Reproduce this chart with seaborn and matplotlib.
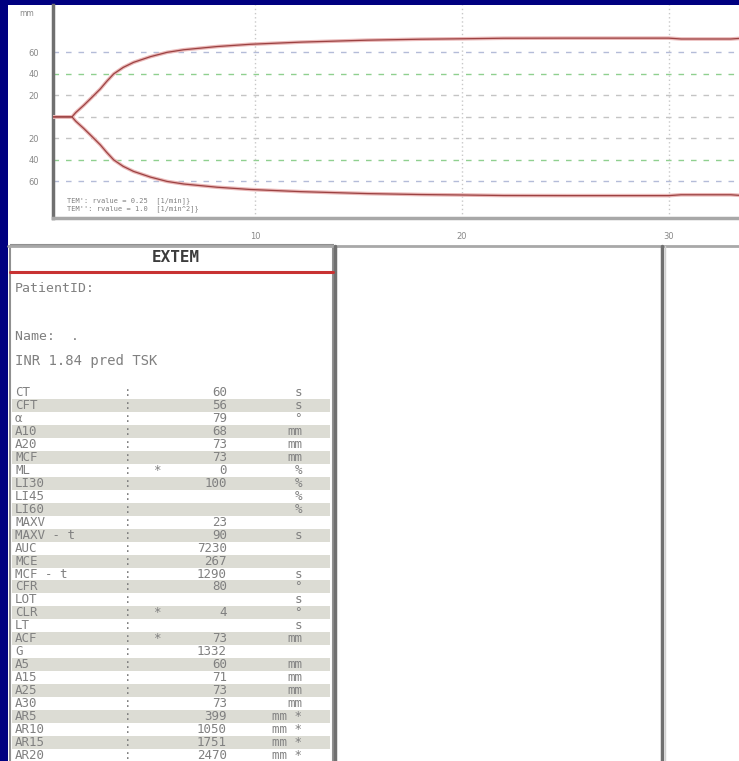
import matplotlib
matplotlib.use('Agg')
import matplotlib.pyplot as plt
import seaborn as sns
import pandas as pd
from matplotlib.patches import Rectangle

# ROTEM trace (minutes, amplitude in mm)
time_min = [0, 1.12, 1.3, 1.69, 2.1, 2.49, 2.8, 3.14, 3.6, 4.1, 4.92, 5.72, 6.53,
            8.15, 9.76, 12.2, 15.4, 18.0, 20.0, 22.0, 25.0, 30.0, 30.6, 33.0, 33.4]
amplitude = [0, 0, 4, 10.8, 18.5, 26, 33, 40, 46, 50.7, 56, 60, 62.4,
             65.4, 67.5, 69.5, 71.3, 72.2, 72.6, 73.1, 73.2, 73.2, 72.4, 72.4, 72.9]

y_ticks = [60, 40, 20, -20, -40, -60]
y_tick_labels = ['60', '40', '20', '20', '40', '60']
x_ticks = [10, 20, 30]

# EXTEM result table
param_names = ['CT', 'CFT', 'α', 'A10', 'A20', 'MCF', 'ML', 'LI30', 'LI45', 'LI60',
               'MAXV', 'MAXV - t', 'AUC', 'MCE', 'MCF - t', 'CFR', 'LOT', 'CLR', 'LT',
               'ACF', 'G', 'A5', 'A15', 'A25', 'A30', 'AR5', 'AR10', 'AR15', 'AR20']
param_flags = ['', '', '', '', '', '', '*', '', '', '',
               '', '', '', '', '', '', '', '*', '',
               '*', '', '', '', '', '', '', '', '', '']
param_values = ['60', '56', '79', '68', '73', '73', '0', '100', '', '',
                '23', '90', '7230', '267', '1290', '80', '', '4', '',
                '73', '1332', '60', '71', '73', '73', '399', '1050', '1751', '2470']
param_units = ['s', 's', '°', 'mm', 'mm', 'mm', '%', '%', '%', '%',
               '', 's', '', '', 's', '°', 's', '°', 's',
               'mm', '', 'mm', 'mm', 'mm', 'mm', 'mm *', 'mm *', 'mm *', 'mm *']

W, H = 739, 761
sns.set_theme(style='white')
plt.rcParams['font.family'] = ['DejaVu Sans']
mono = 'DejaVu Sans Mono'
grey_txt = '#808080'

fig = plt.figure(figsize=(W / 100, H / 100), dpi=100, facecolor='#000080')
fig.patches.append(Rectangle((8 / W, 0), 1 - 8 / W, (H - 5) / H, transform=fig.transFigure,
                             facecolor='white', edgecolor='none', zorder=-5))

# --- trace plot ---
ax = fig.add_axes([53 / W, (H - 218) / H, 1 - 53 / W, 213 / H])
ax.set_facecolor('white')
ax.set_xlim(0.2, 33.4)
ax.set_ylim(-94, 104)

for yv, col in [(60, '#b4bcd8'), (40, '#8fd08f'), (20, '#c4c4c4'), (0, '#c4c4c4'),
                (-20, '#c4c4c4'), (-40, '#8fd08f'), (-60, '#b4bcd8')]:
    ax.axhline(yv, color=col, lw=1, ls=(0, (4, 5)), zorder=1)
for xv in x_ticks:
    ax.axvline(xv, color='#c8c8c8', lw=1, ls=(0, (1, 2)), zorder=1)

df = pd.DataFrame({'t': time_min, 'amp': amplitude})
df['neg'] = -df['amp']
for col in ['amp', 'neg']:
    sns.lineplot(data=df, x='t', y=col, ax=ax, color='#eab8b8', lw=2.6, zorder=3)
    sns.lineplot(data=df, x='t', y=col, ax=ax, color='#9c4242', lw=0.9, zorder=4)

ax.set_xlabel('')
ax.set_ylabel('')
ax.set_yticks(y_ticks)
ax.set_yticklabels(y_tick_labels)
ax.set_xticks(x_ticks)
ax.set_xticklabels([str(v) for v in x_ticks])
ax.tick_params(axis='y', length=0, pad=10, labelsize=6, labelcolor='#888888')
ax.tick_params(axis='x', length=0, pad=10, labelsize=6, labelcolor='#888888')
for s in ['top', 'right']:
    ax.spines[s].set_visible(False)
ax.spines['left'].set_color('#707070')
ax.spines['left'].set_linewidth(2.5)
ax.spines['bottom'].set_color('#a8a8a8')
ax.spines['bottom'].set_linewidth(2.5)
ax.text(0.02, 0.075, "TEM': rvalue = 0.25  [1/min]}", transform=ax.transAxes,
        fontsize=5, color='#808080', family=mono)
ax.text(0.02, 0.035, "TEM'': rvalue = 1.0  [1/min^2]}", transform=ax.transAxes,
        fontsize=5, color='#808080', family=mono)

# --- overlay in pixel coordinates for the report part ---
ov = fig.add_axes([0, 0, 1, 1])
ov.set_xlim(0, W)
ov.set_ylim(H, 0)
ov.axis('off')
ov.patch.set_alpha(0)

ov.text(27, 13, 'mm', fontsize=5.5, color='#888888', ha='center', va='center')

ov.plot([8, W], [246, 246], color='#a8a8a8', lw=2)
ov.add_patch(Rectangle((10, 245), 323, 530, facecolor='none', edgecolor='#909090', lw=1.5))
ov.plot([335, 335], [246, H], color='#707070', lw=2.5)
ov.plot([662, 662], [246, H], color='#707070', lw=2.5)
ov.plot([665, 665], [246, H], color='#d0d0d0', lw=1)

ov.text(176, 257, 'EXTEM', fontsize=11.5, fontweight='bold', color='#3c3c3c',
        family=mono, ha='center', va='center')
ov.plot([10, 333], [272, 272], color='#c83232', lw=2.2)

ov.text(15, 289, 'PatientID:', fontsize=9.5, color=grey_txt, family=mono, va='center')
ov.text(15, 336, 'Name:  .', fontsize=9.5, color=grey_txt, family=mono, va='center')
ov.text(15, 361, 'INR 1.84 pred TSK', fontsize=10, color=grey_txt, family=mono, va='center')

row_y0, row_h = 393, 12.93
for i, name in enumerate(param_names):
    y = row_y0 + i * row_h
    if i % 2 == 1:
        ov.add_patch(Rectangle((12, y - row_h / 2), 318, row_h, facecolor='#dcdcd4',
                               edgecolor='none', zorder=0))
    kw = dict(fontsize=9, color=grey_txt, family=mono, va='center')
    ov.text(15, y, name, ha='left', **kw)
    ov.text(128, y, ':', ha='center', **kw)
    ov.text(157, y, param_flags[i], ha='center', **kw)
    ov.text(227, y, param_values[i], ha='right', **kw)
    ov.text(302, y, param_units[i], ha='right', **kw)

fig.savefig('out.png', dpi=100, facecolor=fig.get_facecolor())
